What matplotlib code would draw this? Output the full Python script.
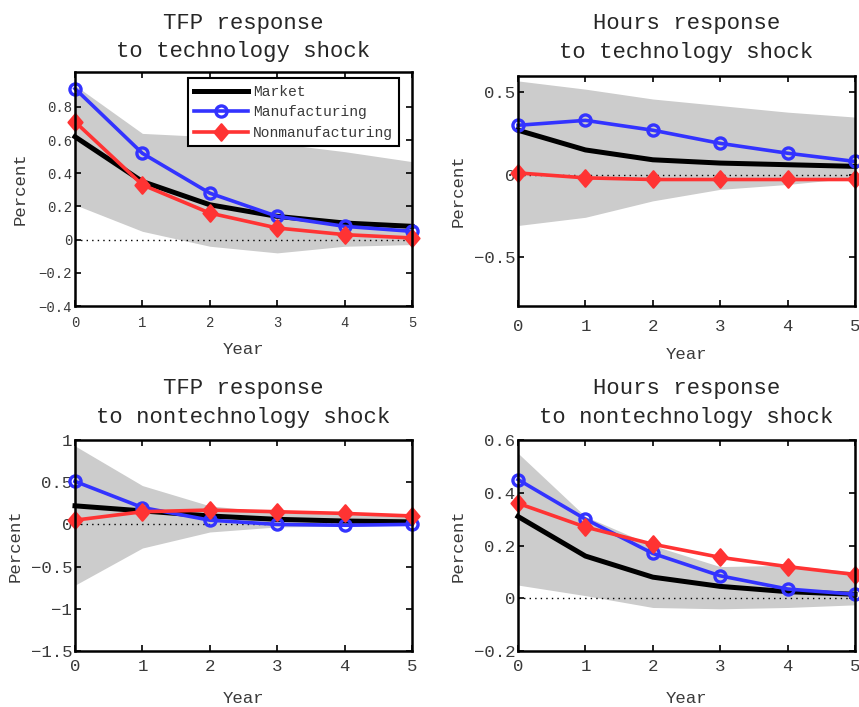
import matplotlib
matplotlib.use("Agg")
import matplotlib.pyplot as plt
from matplotlib.path import Path

plt.rcParams['font.family'] = ['Liberation Mono', 'DejaVu Sans Mono']

years = [0, 1, 2, 3, 4, 5]
series_names = ["Market", "Manufacturing", "Nonmanufacturing"]

# Panel 1: TFP response to technology shock
tfp_tech_market = [0.62, 0.35, 0.21, 0.14, 0.10, 0.08]
tfp_tech_manuf = [0.91, 0.52, 0.28, 0.14, 0.08, 0.05]
tfp_tech_nonmanuf = [0.71, 0.33, 0.16, 0.07, 0.03, 0.01]
tfp_tech_upper = [0.93, 0.64, 0.62, 0.58, 0.53, 0.47]
tfp_tech_lower = [0.21, 0.05, -0.04, -0.08, -0.04, -0.03]

# Panel 2: Hours response to technology shock
hrs_tech_market = [0.27, 0.15, 0.09, 0.07, 0.06, 0.05]
hrs_tech_manuf = [0.30, 0.33, 0.27, 0.19, 0.13, 0.08]
hrs_tech_nonmanuf = [0.01, -0.02, -0.03, -0.03, -0.03, -0.03]
hrs_tech_upper = [0.57, 0.52, 0.46, 0.42, 0.38, 0.35]
hrs_tech_lower = [-0.31, -0.26, -0.16, -0.09, -0.06, -0.02]

# Panel 3: TFP response to nontechnology shock
tfp_non_market = [0.22, 0.16, 0.10, 0.06, 0.04, 0.03]
tfp_non_manuf = [0.51, 0.20, 0.05, 0.00, -0.01, 0.00]
tfp_non_nonmanuf = [0.05, 0.15, 0.17, 0.15, 0.13, 0.10]
tfp_non_upper = [0.93, 0.46, 0.22, 0.14, 0.12, 0.11]
tfp_non_lower = [-0.72, -0.28, -0.09, -0.03, -0.02, -0.01]

# Panel 4: Hours response to nontechnology shock
hrs_non_market = [0.31, 0.16, 0.08, 0.045, 0.025, 0.015]
hrs_non_manuf = [0.45, 0.30, 0.17, 0.085, 0.035, 0.015]
hrs_non_nonmanuf = [0.36, 0.27, 0.205, 0.155, 0.12, 0.09]
hrs_non_upper = [0.55, 0.31, 0.20, 0.12, 0.125, 0.10]
hrs_non_lower = [0.05, 0.01, -0.035, -0.04, -0.035, -0.025]

titles = ["TFP response\nto technology shock",
          "Hours response\nto technology shock",
          "TFP response\nto nontechnology shock",
          "Hours response\nto nontechnology shock"]

ylims = [(-0.4, 1.01), (-0.8, 0.6), (-1.5, 1.0), (-0.2, 0.6)]
yticks = [[-0.4, -0.2, 0, 0.2, 0.4, 0.6, 0.8],
          [-0.5, 0, 0.5],
          [-1.5, -1, -0.5, 0, 0.5, 1],
          [-0.2, 0, 0.2, 0.4, 0.6]]
yticklabels = [["\u22120.4", "\u22120.2", "0", "0.2", "0.4", "0.6", "0.8"],
               ["\u22120.5", "0", "0.5"],
               ["\u22121.5", "\u22121", "\u22120.5", "0", "0.5", "1"],
               ["\u22120.2", "0", "0.2", "0.4", "0.6"]]

panels = [
    (tfp_tech_market, tfp_tech_manuf, tfp_tech_nonmanuf, tfp_tech_upper, tfp_tech_lower),
    (hrs_tech_market, hrs_tech_manuf, hrs_tech_nonmanuf, hrs_tech_upper, hrs_tech_lower),
    (tfp_non_market, tfp_non_manuf, tfp_non_nonmanuf, tfp_non_upper, tfp_non_lower),
    (hrs_non_market, hrs_non_manuf, hrs_non_nonmanuf, hrs_non_upper, hrs_non_lower),
]

# diamond marker shape (slightly taller than wide, as in the original)
diamond = Path([(0, 1), (0.85, 0), (0, -1), (-0.85, 0), (0, 1)],
               [Path.MOVETO, Path.LINETO, Path.LINETO, Path.LINETO, Path.CLOSEPOLY])

W, H = 859, 707
fig = plt.figure(figsize=(W / 100, H / 100), dpi=100)

# axes boxes in pixels: left, top, right, bottom
boxes = [(75, 72, 412, 306), (518, 76, 855, 306),
         (75, 440, 412, 651), (518, 440, 855, 651)]
tick_fs = [10, 12.5, 12.5, 12.5]
title_y = [1.147, 1.165, 1.175, 1.175]
xlabel_y = [-0.188, -0.209, -0.227, -0.227]
ylabel_x = [-0.163, -0.178, -0.178, -0.178]
xtick_pad = [7, 9, 6, 6]

blue = '#3333ff'
red = '#ff3333'
txtc = '#3a3a3a'

for i, (box, data) in enumerate(zip(boxes, panels)):
    l, t, r, b = box
    ax = fig.add_axes([l / W, 1 - b / H, (r - l) / W, (b - t) / H])
    market, manuf, nonmanuf, upper, lower = data
    ax.fill_between(years, lower, upper, color='#cccccc', linewidth=0, zorder=1)
    ax.plot([years[0], years[-1]], [0, 0], color='black', linestyle=(0, (1, 3)),
            linewidth=1.0, zorder=2)
    ax.plot(years, market, color='black', linewidth=3.6, zorder=3,
            label=series_names[0], clip_on=False)
    ax.plot(years, manuf, color=blue, linewidth=2.6, marker='o', markersize=8,
            markerfacecolor='none', markeredgewidth=2.4, zorder=4,
            label=series_names[1], clip_on=False)
    ax.plot(years, nonmanuf, color=red, linewidth=2.6, marker=diamond, markersize=12,
            markerfacecolor=red, markeredgewidth=1.5, zorder=5,
            label=series_names[2], clip_on=False)
    ax.set_xlim(0, 5)
    ax.set_ylim(*ylims[i])
    ax.set_xticks(years)
    ax.set_xticklabels([str(y) for y in years])
    ax.set_yticks(yticks[i])
    ax.set_yticklabels(yticklabels[i])
    ax.tick_params(direction='in', top=True, right=True, length=4, width=1.2,
                   labelsize=tick_fs[i], labelcolor=txtc, pad=2)
    ax.tick_params(axis='x', pad=xtick_pad[i])
    for sp in ax.spines.values():
        sp.set_linewidth(1.8)
        sp.set_zorder(6)
    ax.text(0.5, title_y[i], titles[i], transform=ax.transAxes, ha='center',
            va='center', fontsize=16, color='#262626', linespacing=1.45)
    ax.set_xlabel("Year", fontsize=12.5, color=txtc, va='center')
    ax.xaxis.set_label_coords(0.5, xlabel_y[i])
    ax.set_ylabel("Percent", fontsize=12.5, color=txtc, va='center')
    ax.yaxis.set_label_coords(ylabel_x[i], 0.5)
    if i == 0:
        leg = ax.legend(loc='upper left', bbox_to_anchor=(0.335, 0.974),
                        borderaxespad=0, fontsize=10.5, frameon=True, fancybox=False,
                        handlelength=3.7, handletextpad=0.3, labelspacing=0.45,
                        borderpad=0.45)
        leg.get_frame().set_edgecolor('black')
        leg.get_frame().set_linewidth(1.5)
        leg.get_frame().set_alpha(1)
        leg.set_zorder(7)
        for tx in leg.get_texts():
            tx.set_color(txtc)

fig.savefig("out.png", dpi=100)
